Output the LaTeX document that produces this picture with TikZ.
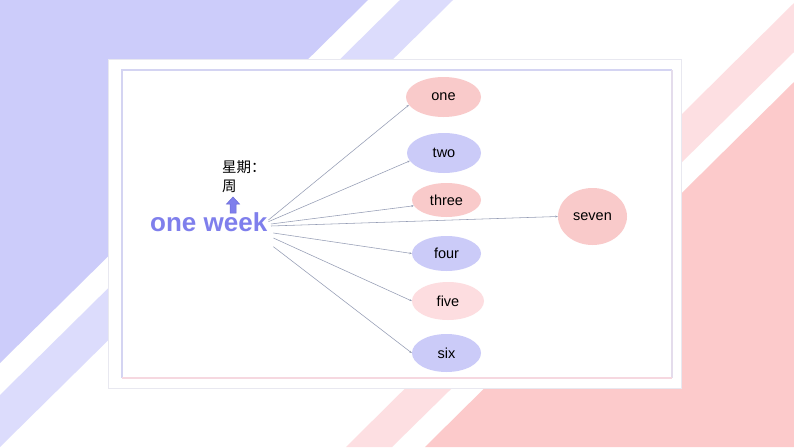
\documentclass[tikz,border=0pt]{standalone}
\usepackage{fontspec}
\setmainfont{Liberation Sans}
\newfontfamily\cjk{Noto Sans CJK SC}
\usetikzlibrary{shapes.geometric,arrows.meta}
\definecolor{bgblue}{HTML}{CCCCFA}
\definecolor{stripeblue}{HTML}{DCDCFC}
\definecolor{bgpink}{HTML}{FCCACB}
\definecolor{stripepink}{HTML}{FDDFE2}
\definecolor{ellpink}{HTML}{F9CACA}
\definecolor{ellblue}{HTML}{CBCBF8}
\definecolor{elllight}{HTML}{FDDDE0}
\definecolor{weekc}{HTML}{7F7FEC}
\definecolor{arrowedge}{HTML}{6A6AD6}
\definecolor{linkc}{HTML}{949CB4}
\definecolor{cardedge}{HTML}{E8E8F0}
\definecolor{frameblue}{HTML}{D4D4F2}
\definecolor{framepink}{HTML}{F6D8E0}
\definecolor{framemix}{HTML}{E4DCEC}
\begin{document}
\begin{tikzpicture}[x=1pt,y=-1pt,
  word/.style={ellipse,inner sep=0pt,font=\fontsize{14.5}{17}\selectfont,text=black},
  pinkword/.style={word,fill=ellpink},
  blueword/.style={word,fill=ellblue},
  lightword/.style={word,fill=elllight},
  link/.style={draw=linkc,line width=0.55pt,-{Stealth[length=2.5pt,width=2pt]}}]
\useasboundingbox (0,0) rectangle (794,447);
\fill[white] (0,0) rectangle (794,447);
% background
\fill[bgblue] (0,0) -- (368,0) -- (0,363) -- cycle;
\fill[stripeblue] (400,0) -- (453,0) -- (0,447) -- (0,395) -- cycle;
\fill[bgpink] (794,82) -- (794,447) -- (425,447) -- cycle;
\fill[stripepink] (794,3) -- (794,52) -- (392,447) -- (346,447) -- cycle;
% card
\filldraw[fill=white,draw=cardedge,line width=1pt] (108,59) rectangle (681,388);
\draw[frameblue,line width=1.2pt] (122,378) -- (122,70) -- (672,70);
\draw[framemix,line width=1.2pt] (672,70) -- (672,378);
\draw[framepink,line width=1.2pt] (122,378) -- (672,378);
% nodes
\node[pinkword,minimum width=75pt,minimum height=40pt] (one) at (443.5,97) {one};
\node[blueword,minimum width=74pt,minimum height=40pt] (two) at (444,153) {two};
\node[pinkword,minimum width=69pt,minimum height=34pt] (three) at (446.5,200) {three};
\node[blueword,minimum width=69pt,minimum height=35pt] (four) at (446.5,253.5) {four};
\node[lightword,minimum width=72pt,minimum height=38pt] (five) at (448,301) {\raisebox{-4pt}{five}};
\node[blueword,minimum width=69pt,minimum height=38pt] (six) at (446.5,353) {six};
\node[pinkword,minimum width=69pt,minimum height=57pt] (seven) at (592.5,216.5) {seven};
\node[anchor=base west,inner sep=0pt,font=\bfseries\fontsize{26}{30}\selectfont,text=weekc] (week) at (150,231) {one week};
\node[anchor=north west,inner sep=0pt,align=left,font=\cjk\fontsize{14.5}{19}\selectfont] (zh) at (222,160) {星期：\\周};
% small up arrow
\filldraw[fill=weekc,draw=arrowedge,line width=0.5pt] (230,213) -- (230,204) -- (226.5,204) -- (233,197) -- (239.5,204) -- (236,204) -- (236,213) -- cycle;
% start points
\coordinate (s1) at (268.4,220);
\coordinate (s2) at (268.4,221.7);
\coordinate (s3) at (271,224);
\coordinate (s7) at (271,226);
\coordinate (s4) at (273.4,233);
\coordinate (s5) at (273.4,238);
\coordinate (s6) at (273.4,246.7);
\draw[link] (s1) -- (one.193);
\draw[link] (s2) -- (two.193);
\draw[link] (s3) -- (three.190);
\draw[link] (s7) -- (seven.180);
\draw[link] (s4) -- (four.180);
\draw[link] (s5) -- (five.180);
\draw[link] (s6) -- (six.180);
\end{tikzpicture}
\end{document}
